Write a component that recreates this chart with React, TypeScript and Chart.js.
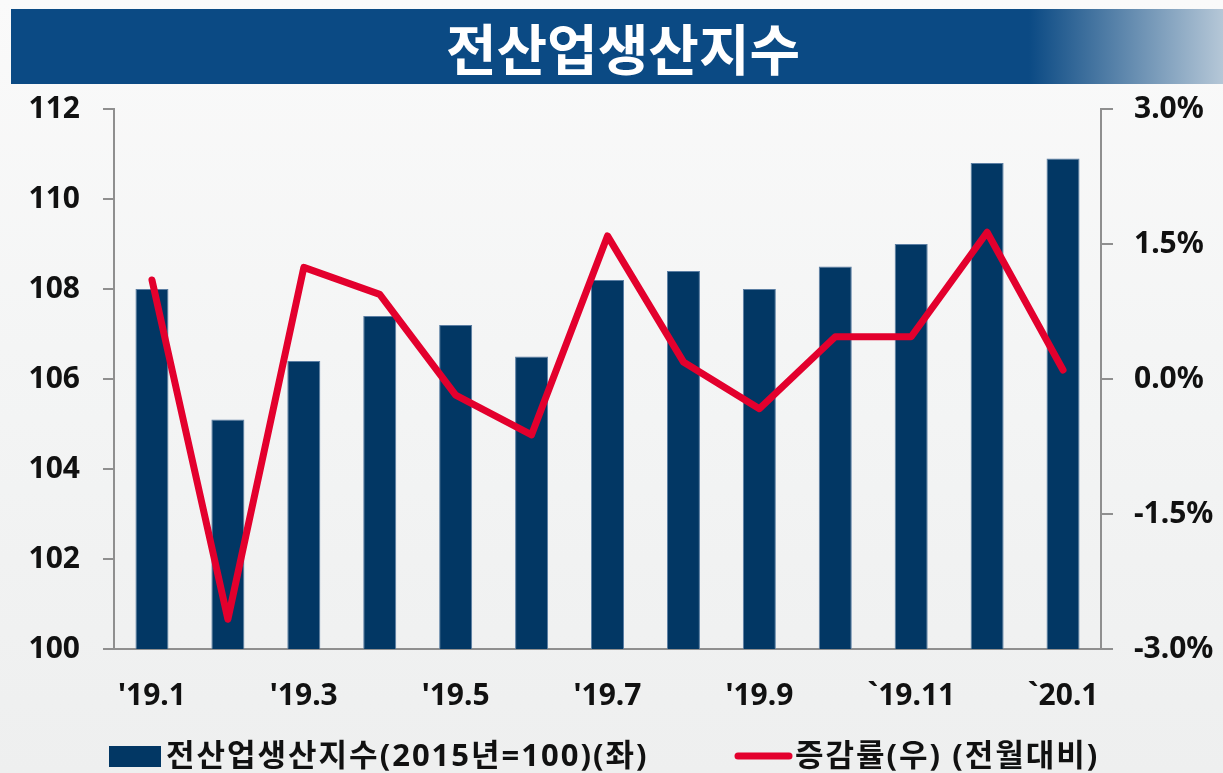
import { useEffect, useRef } from 'react';
import { Chart, registerables } from 'chart.js';

Chart.register(...registerables);

const TITLE = '전산업생산지수';
const categories = ["'19.1", "'19.2", "'19.3", "'19.4", "'19.5", "'19.6", "'19.7", "'19.8", "'19.9", "'19.10", '`19.11', "'19.12", '`20.1'];
const indexValues = [108.0, 105.1, 106.4, 107.4, 107.2, 106.5, 108.2, 108.4, 108.0, 108.5, 109.0, 110.8, 110.9];
const changeValues = [1.1, -2.67, 1.24, 0.94, -0.18, -0.62, 1.59, 0.19, -0.33, 0.47, 0.47, 1.63, 0.1];
const indexLabel = '전산업생산지수(2015년=100)(좌)';
const changeLabel = '증감률(우) (전월대비)';
const leftAxis = { min: 100, max: 112, step: 2 };
const rightAxis = { min: -3, max: 3, step: 1.5 };

const BAR_COLOR = '#023764';
const LINE_COLOR = '#E3002D';
const AXIS_COLOR = '#8f8f8f';
const TEXT_FONT = "'Noto Sans', 'Noto Sans CJK KR', sans-serif";

const legendPlugin = {
  id: 'customLegend',
  afterDraw(chart: any) {
    const ctx = chart.ctx;
    const ds = chart.data.datasets;
    const y = 757;
    ctx.save();
    ctx.font = `bold 31px ${TEXT_FONT}`;
    try {
      (ctx as any).letterSpacing = '2px';
    } catch (e) {}
    ctx.textBaseline = 'middle';
    ctx.textAlign = 'left';
    ctx.fillStyle = ds[0].backgroundColor;
    ctx.fillRect(109, 746, 52, 21);
    ctx.fillStyle = '#111';
    ctx.fillText(ds[0].label, 166, y);
    ctx.strokeStyle = ds[1].borderColor;
    ctx.lineWidth = 7;
    ctx.lineCap = 'round';
    ctx.beginPath();
    ctx.moveTo(738, 756);
    ctx.lineTo(789, 756);
    ctx.stroke();
    ctx.fillStyle = '#111';
    ctx.fillText(ds[1].label, 795, y);
    ctx.restore();
  },
};

export default function App() {
  const canvasRef = useRef<HTMLCanvasElement | null>(null);

  useEffect(() => {
    document.body.style.margin = '0';
    const canvas = canvasRef.current;
    if (!canvas) return;
    const chart = new Chart(canvas, {
      type: 'bar',
      data: {
        labels: categories,
        datasets: [
          {
            type: 'bar',
            label: indexLabel,
            data: indexValues,
            backgroundColor: BAR_COLOR,
            borderColor: '#5b7ea3',
            borderWidth: 1,
            barPercentage: 0.435,
            categoryPercentage: 1,
            yAxisID: 'y',
            order: 1,
          },
          {
            type: 'line',
            label: changeLabel,
            data: changeValues,
            borderColor: LINE_COLOR,
            backgroundColor: LINE_COLOR,
            borderWidth: 7,
            pointRadius: 0,
            tension: 0,
            borderJoinStyle: 'round',
            borderCapStyle: 'round',
            yAxisID: 'y1',
            order: 0,
          },
        ] as any,
      },
      options: {
        responsive: false,
        animation: false,
        devicePixelRatio: 1,
        layout: { padding: { top: 109, left: 0, right: 0, bottom: 0 } },
        plugins: {
          legend: { display: false },
          tooltip: { enabled: false },
          title: { display: false },
        },
        scales: {
          x: {
            offset: true,
            grid: { display: false, drawTicks: false },
            border: { display: true, color: AXIS_COLOR, width: 2 },
            ticks: {
              autoSkip: false,
              maxRotation: 0,
              padding: 29,
              color: '#111',
              font: { family: TEXT_FONT, size: 30, weight: 'bold' },
              callback: (_v: any, i: number) => (i % 2 === 0 ? categories[i] : ''),
            },
            afterFit: (s: any) => {
              s.height = 124;
            },
          },
          y: {
            position: 'left',
            min: leftAxis.min,
            max: leftAxis.max,
            grid: {
              display: true,
              drawOnChartArea: false,
              drawTicks: true,
              tickLength: 11,
              color: AXIS_COLOR,
              lineWidth: 2,
            },
            border: { display: true, color: AXIS_COLOR, width: 2 },
            ticks: {
              stepSize: leftAxis.step,
              padding: 23,
              color: '#111',
              font: { family: TEXT_FONT, size: 30, weight: 'bold' },
            },
            afterFit: (s: any) => {
              s.width = 114;
            },
          },
          y1: {
            position: 'right',
            min: rightAxis.min,
            max: rightAxis.max,
            grid: {
              display: true,
              drawOnChartArea: false,
              drawTicks: true,
              tickLength: 12,
              color: AXIS_COLOR,
              lineWidth: 2,
            },
            border: { display: true, color: AXIS_COLOR, width: 2 },
            ticks: {
              stepSize: rightAxis.step,
              padding: 21,
              color: '#111',
              font: { family: TEXT_FONT, size: 30, weight: 'bold' },
              callback: (v: any) => Number(v).toFixed(1) + '%',
            },
            afterFit: (s: any) => {
              s.width = 122;
            },
          },
        },
      } as any,
      plugins: [legendPlugin],
    });
    return () => chart.destroy();
  }, []);

  return (
    <div
      style={{
        position: 'relative',
        width: 1223,
        height: 773,
        overflow: 'hidden',
        background: 'linear-gradient(180deg, #fafafa 0%, #f4f5f5 45%, #eeefef 100%)',
      }}
    >
      <div
        style={{
          position: 'absolute',
          left: 11,
          top: 9,
          width: 1212,
          height: 75,
          background: 'linear-gradient(90deg, #0b4a84 0%, #0b4a84 84%, #b5c7d7 100%)',
          color: '#fff',
          fontFamily: "'Noto Sans CJK KR', sans-serif",
          fontWeight: 700,
          fontSize: 55,
          lineHeight: '75px',
          textAlign: 'center',
          paddingLeft: 12,
          boxSizing: 'border-box',
        }}
      >
        {TITLE}
      </div>
      <canvas
        ref={canvasRef}
        width={1223}
        height={773}
        style={{ position: 'absolute', left: 0, top: 0, width: 1223, height: 773 }}
      />
    </div>
  );
}
